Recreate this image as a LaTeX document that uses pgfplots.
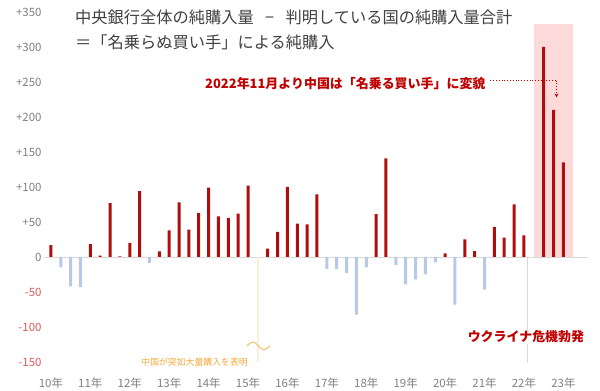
\documentclass[border=0pt]{standalone}
\usepackage{pgfplots}
\pgfplotsset{compat=1.18}
\usetikzlibrary{arrows.meta}
\usepackage{fontspec}
\setmainfont{Noto Sans CJK JP}
\definecolor{barred}{RGB}{176,14,14}
\definecolor{barblue}{RGB}{183,201,230}
\definecolor{pinkshade}{RGB}{252,218,218}
\definecolor{ticgray}{RGB}{128,128,128}
\definecolor{negred}{RGB}{222,90,90}
\definecolor{titlegray}{RGB}{64,64,64}
\definecolor{annred}{RGB}{192,0,0}
\definecolor{paleyellow}{RGB}{251,238,214}
\definecolor{tildeyellow}{RGB}{242,200,122}
\definecolor{orangetxt}{RGB}{244,170,60}
\definecolor{zerogray}{RGB}{217,217,217}
\begin{document}
\begin{tikzpicture}
\path[use as bounding box] (-45bp,-29bp) rectangle (555bp,362bp);
\begin{axis}[
  at={(0,0)}, anchor=south west,
  scale only axis, width=543bp, height=350bp,
  xmin=-0.6, xmax=54.5, ymin=-150, ymax=350,
  axis line style={draw=none}, tick style={draw=none},
  ytick={-150,-100,-50,0,50,100,150,200,250,300,350},
  yticklabels={\textcolor{negred}{-150},\textcolor{negred}{-100},\textcolor{negred}{-50},0,+50,+100,+150,+200,+250,+300,+350},
  xtick={0,4,8,12,16,20,24,28,32,36,40,44,48,52},
  xticklabels={10年,11年,12年,13年,14年,15年,16年,17年,18年,19年,20年,21年,22年,23年},
  ticklabel style={font=\fontsize{11.5}{12}\selectfont, text=ticgray},
  xticklabel style={yshift=-12bp},
  clip mode=individual,
]
\fill[pinkshade] (axis cs:49.05,0) rectangle (axis cs:52.95,333);
\draw[zerogray, line width=0.8bp] (axis cs:-0.6,0) -- (axis cs:54.5,0);
\draw[zerogray, line width=0.6bp] (axis cs:48.35,0) -- (axis cs:48.35,-152);
\addplot[ybar, bar shift=0pt, bar width=2.5bp, fill=paleyellow, draw=none] coordinates {(21,-150)};
\addplot[ybar, bar shift=0pt, bar width=3bp, fill=barred, draw=none] coordinates {
(0,17) (4,18.5) (5,2) (6,77) (7,1) (8,20) (9,94) (11,8) (12,38) (13,78) (14,39) (15,63) (16,99) (17,58) (18,56) (19,62) (20,102) (22,12) (23,36) (24,100) (25,47.6) (26,46.7) (27,89.5) (33,61.4) (34,141) (40,5) (42,25) (43,8.5) (45,43) (46,27.6) (47,75) (48,31) (50,300) (51,210) (52,135)};
\addplot[ybar, bar shift=0pt, bar width=3bp, fill=barblue, draw=none] coordinates {
(1,-15) (2,-42) (3,-43) (10,-8.5) (28,-17) (29,-17) (30,-23) (31,-82.5) (32,-15) (35,-11.4) (36,-39) (37,-32) (38,-25) (39,-7.6) (41,-68) (44,-46.5)};
\draw[annred, dotted, line width=0.8bp] (axis cs:44.6,252) -- (axis cs:51.3,252);
\draw[annred, dotted, line width=0.8bp, -{Stealth[length=4bp,width=4bp]}] (axis cs:51.3,252) -- (axis cs:51.3,228);
\draw[tildeyellow, line width=1.2bp] (axis cs:19.9,-127) .. controls (axis cs:20.3,-120) and (axis cs:20.7,-120) .. (axis cs:21.05,-127) .. controls (axis cs:21.4,-134) and (axis cs:21.8,-134) .. (axis cs:22.2,-127);
\node[anchor=east, fill=white, inner sep=1bp, text=orangetxt, font=\fontsize{8.9}{9}\selectfont] at (axis cs:20.1,-150.5) {中国が突如大量購入を表明};
\node[fill=white, inner sep=1bp, text=annred, font=\fontsize{13}{14}\selectfont\bfseries] at (axis cs:48.2,-114) {ウクライナ危機勃発};
\end{axis}
\node[anchor=west, text=titlegray, font=\fontsize{16.3}{17}\selectfont, inner sep=0pt] at (30bp,345bp) {中央銀行全体の純購入量\hspace{0.7em}−\hspace{0.7em}判明している国の純購入量合計};
\node[anchor=west, text=titlegray, font=\fontsize{16.3}{17}\selectfont, inner sep=0pt] at (30bp,320bp) {＝「名乗らぬ買い手」による純購入};
\node[anchor=west, text=annred, font=\fontsize{13}{14}\selectfont\bfseries, inner sep=0pt] at (160bp,278bp) {2022年11月より中国は「名乗る買い手」に変貌};
\end{tikzpicture}
\end{document}
